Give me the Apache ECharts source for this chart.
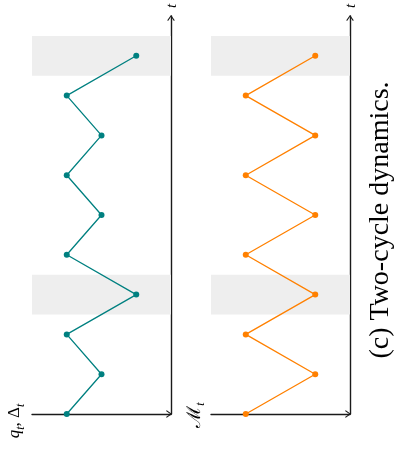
<!DOCTYPE html>
<html>
<head>
<meta charset="utf-8">
<script src="https://cdn.jsdelivr.net/npm/echarts@6/dist/echarts.min.js"></script>
<style>
html,body{margin:0;padding:0;background:#fff;}
#c{width:405px;height:451px;}
</style>
</head>
<body>
<div id="c"></div>
<script>
// ---- data ----
const timeSteps = [0, 1, 2, 3, 4, 5, 6, 7, 8, 9];
const qDeltaValues = [3, 2, 3, 1, 3, 2, 3, 2, 3, 1];
const mValues = [3, 1, 3, 1, 3, 1, 3, 1, 3, 1];
const bandStarts = [2.5, 8.5];
const bandEnds = [3.5, 9.5];
const valueMax = 4;
const timeMax = 10;

const chart = echarts.init(document.getElementById('c'), null, {renderer: 'canvas'});

const axisColor = '#1a1a1a';
const arrowPath = 'path://M5,0 L10,7 L8.9,8 L5,2.3 L1.1,8 L0,7 Z';

function pairs(vals) { return timeSteps.map((t, i) => [vals[i], t]); }
function bands() {
  return bandStarts.map((s, i) => [{yAxis: s}, {yAxis: bandEnds[i]}]);
}

const grids = [
  {left: 32, right: 234, top: 16, bottom: 37},
  {left: 211, right: 55, top: 16, bottom: 37}
];

function xAx(idx) {
  return {
    type: 'value', gridIndex: idx, inverse: true, min: 0, max: valueMax,
    axisLine: {show: true, onZero: false, lineStyle: {color: axisColor, width: 1.4},
      symbol: ['none', arrowPath], symbolSize: [9, 6], symbolOffset: [0, -2]},
    axisTick: {show: false}, axisLabel: {show: false}, splitLine: {show: false}
  };
}
function yAx(idx) {
  return {
    type: 'value', gridIndex: idx, min: 0, max: timeMax, position: 'right',
    axisLine: {show: true, onZero: false, lineStyle: {color: axisColor, width: 1.4},
      symbol: ['none', arrowPath], symbolSize: [9, 6], symbolOffset: [0, -2]},
    axisTick: {show: false}, axisLabel: {show: false}, splitLine: {show: false}
  };
}

function series(idx, vals, color) {
  return {
    type: 'line', xAxisIndex: idx, yAxisIndex: idx,
    data: pairs(vals),
    symbol: 'circle', symbolSize: 6, showSymbol: true,
    lineStyle: {color: color, width: 1.3},
    itemStyle: {color: color},
    animation: false, z: 3,
    markArea: {silent: true, itemStyle: {color: '#eeeeee'}, data: bands()}
  };
}

const mathFont = "'Liberation Serif', 'DejaVu Serif', serif";

chart.setOption({
  animation: false,
  grid: grids,
  xAxis: [xAx(0), xAx(1)],
  yAxis: [yAx(0), yAx(1)],
  series: [series(0, qDeltaValues, '#008080'), series(1, mValues, '#ff8000')],
  graphic: [
    {type: 'text', x: 172, y: 6, rotation: Math.PI / 2,
      style: {text: 't', fontFamily: mathFont, fontStyle: 'italic', fontSize: 15, fill: '#000', align: 'center', verticalAlign: 'middle'}},
    {type: 'text', x: 351, y: 6, rotation: Math.PI / 2,
      style: {text: 't', fontFamily: mathFont, fontStyle: 'italic', fontSize: 15, fill: '#000', align: 'center', verticalAlign: 'middle'}},
    {type: 'text', x: 15, y: 421, rotation: Math.PI / 2,
      style: {
        text: '{i|q}{s|t}{n|, Δ}{s|t}',
        align: 'center', verticalAlign: 'middle',
        rich: {
          i: {fontFamily: mathFont, fontStyle: 'italic', fontSize: 17, lineHeight: 24, verticalAlign: 'middle', fill: '#000'},
          n: {fontFamily: mathFont, fontSize: 17, lineHeight: 24, verticalAlign: 'middle', fill: '#000'},
          s: {fontFamily: mathFont, fontStyle: 'italic', fontSize: 12, lineHeight: 13, verticalAlign: 'bottom', fill: '#000'}
        }
      }},
    {type: 'text', x: 195, y: 415, rotation: Math.PI / 2,
      style: {
        text: '{i|ℳ}{s|t}',
        align: 'center', verticalAlign: 'middle',
        rich: {
          i: {fontFamily: "'DejaVu Serif', serif", fontSize: 19, lineHeight: 24, verticalAlign: 'middle', fill: '#000'},
          s: {fontFamily: mathFont, fontStyle: 'italic', fontSize: 12, lineHeight: 13, verticalAlign: 'bottom', fill: '#000'}
        }
      }},
    {type: 'text', x: 381, y: 220, rotation: Math.PI / 2,
      style: {text: '(c) Two-cycle dynamics.', fontFamily: mathFont, fontSize: 28, fill: '#000', align: 'center', verticalAlign: 'middle'}}
  ]
});
</script>
</body>
</html>
